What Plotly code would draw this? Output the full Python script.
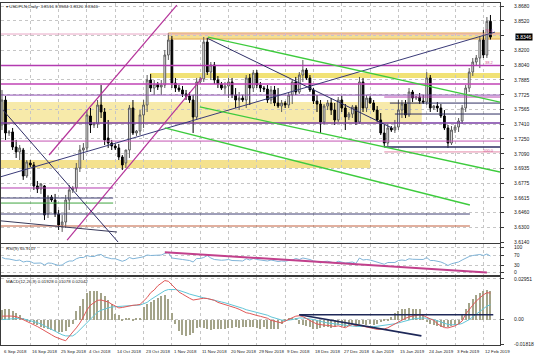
import plotly.graph_objects as go

W, H = 536, 358

# ---------------- data ----------------
date_labels = ["6 Sep 2018", "16 Sep 2018", "25 Sep 2018", "4 Oct 2018", "14 Oct 2018",
               "23 Oct 2018", "1 Nov 2018", "11 Nov 2018", "20 Nov 2018", "29 Nov 2018",
               "9 Dec 2018", "18 Dec 2018", "27 Dec 2018", "6 Jan 2019", "15 Jan 2019",
               "24 Jan 2019", "3 Feb 2019", "12 Feb 2019"]
label_bars = [0, 8, 16, 24, 32, 40, 48, 56, 64, 72, 80, 88, 96, 104, 112, 120, 128, 136]

opens = [3.7400, 3.7669, 3.7314, 3.7325, 3.7163, 3.7110, 3.7131, 3.6851, 3.6991, 3.6970,
         3.6744, 3.6711, 3.6744, 3.6442, 3.6625, 3.6593, 3.6442, 3.6324, 3.6356, 3.6593,
         3.6701, 3.6722, 3.6937, 3.7131, 3.7153, 3.7497, 3.7400, 3.7411, 3.7615, 3.7540,
         3.7260, 3.7206, 3.7174, 3.7153, 3.7056, 3.6991, 3.7131, 3.7583, 3.7314, 3.7335,
         3.7508, 3.7615, 3.7884, 3.7798, 3.7841, 3.7809, 3.7830, 3.8153, 3.8315, 3.7852,
         3.7798, 3.7777, 3.7734, 3.7712, 3.7669, 3.7486, 3.7863, 3.7895, 3.8293, 3.7970,
         3.8046, 3.7884, 3.7841, 3.7798, 3.7820, 3.7863, 3.7723, 3.7669, 3.7690, 3.7669,
         3.7906, 3.7798, 3.7960, 3.7830, 3.7798, 3.7787, 3.7669, 3.7777, 3.7637, 3.7604,
         3.7637, 3.7615, 3.7723, 3.7863, 3.7755, 3.7938, 3.7992, 3.7906, 3.7777, 3.7658,
         3.7626, 3.7432, 3.7604, 3.7637, 3.7561, 3.7454, 3.7669, 3.7583, 3.7486, 3.7518,
         3.7594, 3.7432, 3.7863, 3.7583, 3.7690, 3.7637, 3.7561, 3.7454, 3.7314, 3.7206,
         3.7368, 3.7346, 3.7378, 3.7561, 3.7626, 3.7508, 3.7755, 3.7690, 3.7701, 3.7658,
         3.7647, 3.7906, 3.7583, 3.7604, 3.7583, 3.7497, 3.7368, 3.7206, 3.7346, 3.7378,
         3.7443, 3.7583, 3.7798, 3.7970, 3.8078, 3.8121, 3.8315, 3.8153, 3.8516]
highs = [3.7777, 3.7712, 3.7346, 3.7368, 3.7239, 3.7185, 3.7153, 3.7023, 3.7023, 3.7002,
         3.6797, 3.6776, 3.6754, 3.6647, 3.6647, 3.6658, 3.6485, 3.6431, 3.6647, 3.6754,
         3.6744, 3.6991, 3.7185, 3.7206, 3.7561, 3.7583, 3.7432, 3.7669, 3.7830, 3.7583,
         3.7454, 3.7239, 3.7196, 3.7196, 3.7077, 3.7131, 3.7615, 3.7669, 3.7346, 3.7561,
         3.7669, 3.7938, 3.7949, 3.7884, 3.7863, 3.7884, 3.8207, 3.8390, 3.8358, 3.7906,
         3.7830, 3.7820, 3.7777, 3.7755, 3.7723, 3.7906, 3.7917, 3.8347, 3.8336, 3.8078,
         3.8078, 3.7927, 3.7863, 3.7863, 3.7906, 3.7906, 3.7798, 3.7755, 3.7723, 3.7938,
         3.7949, 3.7992, 3.7992, 3.7863, 3.7820, 3.7830, 3.7820, 3.7820, 3.7798, 3.7669,
         3.7658, 3.7755, 3.7884, 3.7917, 3.7970, 3.8100, 3.8013, 3.7938, 3.7798, 3.7723,
         3.7669, 3.7626, 3.7669, 3.7690, 3.7637, 3.7701, 3.7712, 3.7626, 3.7540, 3.7615,
         3.7615, 3.7917, 3.7906, 3.7723, 3.7712, 3.7669, 3.7604, 3.7529, 3.7400, 3.7411,
         3.7389, 3.7454, 3.7669, 3.7669, 3.7669, 3.7798, 3.7777, 3.7712, 3.7744, 3.7723,
         3.7970, 3.7938, 3.7615, 3.7647, 3.7626, 3.7561, 3.7400, 3.7389, 3.7400, 3.7475,
         3.7615, 3.7830, 3.8013, 3.8121, 3.8153, 3.8358, 3.8422, 3.8562, 3.8584]
lows = [3.7346, 3.7239, 3.7282, 3.7131, 3.7045, 3.7023, 3.6809, 3.6830, 3.6948, 3.6701,
        3.6668, 3.6658, 3.6378, 3.6399, 3.6572, 3.6410, 3.6270, 3.6249, 3.6292, 3.6485,
        3.6668, 3.6679, 3.6894, 3.7023, 3.7110, 3.7314, 3.7368, 3.7368, 3.7475, 3.7185,
        3.7153, 3.7131, 3.7131, 3.7023, 3.6916, 3.6937, 3.7045, 3.7292, 3.7282, 3.7292,
        3.7368, 3.7540, 3.7755, 3.7723, 3.7777, 3.7723, 3.7798, 3.8100, 3.7798, 3.7755,
        3.7755, 3.7701, 3.7669, 3.7637, 3.7314, 3.7454, 3.7841, 3.7863, 3.7938, 3.7884,
        3.7841, 3.7798, 3.7777, 3.7734, 3.7690, 3.7690, 3.7583, 3.7561, 3.7647, 3.7583,
        3.7615, 3.7755, 3.7798, 3.7755, 3.7755, 3.7637, 3.7626, 3.7604, 3.7583, 3.7540,
        3.7583, 3.7583, 3.7626, 3.7723, 3.7734, 3.7863, 3.7884, 3.7755, 3.7626, 3.7540,
        3.7314, 3.7400, 3.7561, 3.7508, 3.7400, 3.7432, 3.7540, 3.7346, 3.7454, 3.7475,
        3.7400, 3.7411, 3.7540, 3.7540, 3.7626, 3.7540, 3.7432, 3.7292, 3.7163, 3.7174,
        3.7325, 3.7314, 3.7346, 3.7475, 3.7475, 3.7486, 3.7647, 3.7669, 3.7626, 3.7626,
        3.7615, 3.7540, 3.7561, 3.7540, 3.7475, 3.7346, 3.7153, 3.7185, 3.7314, 3.7325,
        3.7411, 3.7540, 3.7755, 3.7927, 3.8035, 3.8013, 3.8121, 3.8121, 3.8320]
closes = [3.7669, 3.7314, 3.7325, 3.7163, 3.7110, 3.7153, 3.6851, 3.7002, 3.6970, 3.6744,
          3.6711, 3.6765, 3.6431, 3.6625, 3.6593, 3.6442, 3.6324, 3.6356, 3.6593, 3.6701,
          3.6722, 3.6937, 3.7131, 3.7153, 3.7508, 3.7400, 3.7411, 3.7615, 3.7540, 3.7239,
          3.7206, 3.7174, 3.7153, 3.7056, 3.6970, 3.7131, 3.7583, 3.7314, 3.7335, 3.7508,
          3.7615, 3.7884, 3.7798, 3.7841, 3.7809, 3.7830, 3.8153, 3.8315, 3.7852, 3.7798,
          3.7777, 3.7734, 3.7712, 3.7669, 3.7486, 3.7863, 3.7895, 3.8293, 3.7970, 3.8046,
          3.7884, 3.7841, 3.7798, 3.7820, 3.7863, 3.7723, 3.7669, 3.7690, 3.7669, 3.7906,
          3.7798, 3.7960, 3.7830, 3.7798, 3.7787, 3.7669, 3.7777, 3.7637, 3.7604, 3.7637,
          3.7615, 3.7723, 3.7863, 3.7755, 3.7938, 3.7992, 3.7906, 3.7777, 3.7658, 3.7626,
          3.7432, 3.7604, 3.7637, 3.7561, 3.7454, 3.7669, 3.7583, 3.7486, 3.7518, 3.7594,
          3.7432, 3.7863, 3.7583, 3.7690, 3.7637, 3.7561, 3.7454, 3.7314, 3.7206, 3.7368,
          3.7346, 3.7378, 3.7561, 3.7626, 3.7508, 3.7755, 3.7690, 3.7701, 3.7658, 3.7647,
          3.7906, 3.7583, 3.7604, 3.7583, 3.7497, 3.7368, 3.7206, 3.7346, 3.7378, 3.7443,
          3.7583, 3.7798, 3.7970, 3.8078, 3.8121, 3.8315, 3.8153, 3.8516, 3.8346]

rsi = [60, 55, 54, 50, 48, 50, 42, 45, 44, 37, 36, 38, 30, 38, 37, 32, 28, 30, 40, 46,
       46, 55, 60, 60, 68, 64, 64, 70, 72, 62, 58, 55, 55, 50, 45, 50, 60, 55, 56, 60,
       63, 70, 68, 68, 68, 70, 76, 80, 58, 55, 54, 52, 50, 48, 42, 56, 56, 60, 68, 58,
       52, 50, 49, 50, 52, 48, 46, 47, 46, 55, 50, 56, 52, 50, 50, 46, 50, 46, 44, 46,
       45, 48, 50, 56, 52, 58, 56, 52, 46, 44, 38, 44, 45, 40, 38, 45, 42, 38, 40, 42,
       36, 58, 50, 52, 50, 45, 42, 36, 33, 40, 40, 40, 48, 50, 48, 55, 53, 53, 51, 52,
       60, 48, 48, 46, 42, 36, 28, 35, 38, 42, 50, 58, 64, 68, 70, 72, 68, 74, 65.9107]

macd_main = [0.0025, 0.0028, 0.0026, 0.0025, 0.0022, 0.0012, 0.0000, -0.0012, -0.0022, -0.0035,
             -0.0050, -0.0065, -0.0082, -0.0095, -0.0110, -0.0125, -0.0138, -0.0145, -0.0153, -0.0125,
             -0.0090, -0.0060, -0.0025, 0.0020, 0.0070, 0.0105, 0.0120, 0.0140, 0.0142, 0.0135,
             0.0128, 0.0112, 0.0100, 0.0085, 0.0088, 0.0094, 0.0100, 0.0104, 0.0106, 0.0110,
             0.0135, 0.0160, 0.0195, 0.0215, 0.0245, 0.0265, 0.0283, 0.0278, 0.0250, 0.0225,
             0.0200, 0.0185, 0.0168, 0.0155, 0.0142, 0.0148, 0.0153, 0.0155, 0.0153, 0.0146,
             0.0140, 0.0125, 0.0118, 0.0108, 0.0100, 0.0094, 0.0085, 0.0075, 0.0062, 0.0050,
             0.0045, 0.0040, 0.0030, 0.0024, 0.0018, 0.0010, -0.0005, -0.0012, -0.0022, -0.0024,
             -0.0010, 0.0000, 0.0015, 0.0025, 0.0028, 0.0022, 0.0008, -0.0008, -0.0020, -0.0032,
             -0.0038, -0.0040, -0.0042, -0.0047, -0.0050, -0.0045, -0.0052, -0.0059, -0.0045, -0.0035,
             -0.0045, -0.0040, -0.0048, -0.0052, -0.0058, -0.0065, -0.0071, -0.0072, -0.0068, -0.0059,
             -0.0045, -0.0030, -0.0012, 0.0000, 0.0010, 0.0020, 0.0024, 0.0030, 0.0035, 0.0030,
             0.0015, 0.0005, -0.0005, -0.0030, -0.0045, -0.0058, -0.0060, -0.0052, -0.0045, -0.0030,
             -0.0010, 0.0040, 0.0075, 0.0105, 0.0135, 0.0160, 0.0180, 0.0195, 0.01928]
macd_signal = [0.0000, 0.0003, 0.0006, 0.0009, 0.0012, 0.0010, 0.0006, 0.0000, -0.0006, -0.0014,
               -0.0022, -0.0032, -0.0045, -0.0062, -0.0075, -0.0088, -0.0100, -0.0110, -0.0118, -0.0120,
               -0.0118, -0.0100, -0.0075, -0.0050, -0.0024, 0.0005, 0.0030, 0.0055, 0.0068, 0.0078,
               0.0085, 0.0092, 0.0094, 0.0094, 0.0094, 0.0095, 0.0098, 0.0100, 0.0103, 0.0106,
               0.0115, 0.0125, 0.0145, 0.0160, 0.0180, 0.0195, 0.0210, 0.0218, 0.0220, 0.0218,
               0.0212, 0.0205, 0.0195, 0.0185, 0.0177, 0.0170, 0.0165, 0.0158, 0.0153, 0.0148,
               0.0142, 0.0135, 0.0128, 0.0122, 0.0115, 0.0106, 0.0098, 0.0090, 0.0082, 0.0072,
               0.0066, 0.0060, 0.0052, 0.0046, 0.0040, 0.0032, 0.0020, 0.0012, 0.0003, -0.0003,
               -0.0007, -0.0005, 0.0000, 0.0006, 0.0012, 0.0012, 0.0010, 0.0005, 0.0000, -0.0008,
               -0.0014, -0.0019, -0.0024, -0.0028, -0.0032, -0.0035, -0.0038, -0.0042, -0.0044, -0.0047,
               -0.0049, -0.0050, -0.0051, -0.0052, -0.0052, -0.0051, -0.0048, -0.0045, -0.0041, -0.0037,
               -0.0035, -0.0030, -0.0024, -0.0016, -0.0010, -0.0002, 0.0004, 0.0008, 0.0012, 0.0012,
               0.0010, 0.0006, 0.0000, -0.0008, -0.0016, -0.0028, -0.0035, -0.0038, -0.0038, -0.0035,
               -0.0028, -0.0015, 0.0000, 0.0020, 0.0040, 0.0062, 0.0082, 0.0098, 0.01078]
macd_hist = [0.0070, 0.0080, 0.0075, 0.0065, 0.0050, 0.0030, 0.0010, -0.0005, -0.0015, -0.0030,
             -0.0040, -0.0050, -0.0060, -0.0065, -0.0072, -0.0080, -0.0088, -0.0092, -0.0085, -0.0050,
             -0.0030, 0.0060, 0.0100, 0.0150, 0.0190, 0.0210, 0.0210, 0.0205, 0.0195, 0.0170,
             0.0140, 0.0110, 0.0040, 0.0030, -0.0010, 0.0010, 0.0012, -0.0008, 0.0010, 0.0015,
             0.0095, 0.0110, 0.0130, 0.0145, 0.0160, 0.0170, 0.0178, 0.0150, 0.0045, -0.0030,
             -0.0080, -0.0110, -0.0120, -0.0115, -0.0095, -0.0060, -0.0055, -0.0060, -0.0070, -0.0075,
             -0.0070, -0.0068, -0.0070, -0.0065, -0.0060, -0.0062, -0.0055, -0.0060, -0.0055, -0.0050,
             -0.0055, -0.0050, -0.0060, -0.0065, -0.0055, -0.0065, -0.0070, -0.0068, -0.0065, -0.0030,
             -0.0010, 0.0005, 0.0010, 0.0008, -0.0030, -0.0040, -0.0045, -0.0055, -0.0065, -0.0070,
             -0.0060, -0.0055, -0.0050, -0.0060, -0.0055, -0.0040, -0.0045, -0.0050, -0.0040, -0.0035,
             -0.0045, -0.0030, -0.0035, -0.0040, -0.0035, -0.0040, -0.0030, -0.0015, -0.0010, -0.0005,
             0.0020, 0.0045, 0.0060, 0.0075, 0.0080, 0.0085, 0.0080, 0.0080, 0.0075, 0.0040,
             -0.0020, -0.0035, -0.0040, -0.0045, -0.0050, -0.0055, -0.0050, -0.0045, -0.0040, -0.0030,
             0.0030, 0.0080, 0.0120, 0.0150, 0.0175, 0.0195, 0.0205, 0.0215, 0.02042]

price_ticks = [3.6140, 3.6300, 3.6460, 3.6615, 3.6775, 3.6935, 3.7090, 3.7250, 3.7410,
               3.7565, 3.7725, 3.7885, 3.8040, 3.8200, 3.8360, 3.8520, 3.8680]
price_tick_text = ["3.6140", "3.6300", "3.6460", "3.6615", "3.6775", "3.6935", "3.7090", "3.7250",
                   "3.7410", "3.7565", "3.7725", "3.7885", "3.8040", "3.8200", "", "3.8520", "3.8680"]
rsi_ticks = [0, 30, 70, 100]
macd_ticks = [-0.01818, 0.0, 0.02951]
macd_tick_text = ["-0.01818", "0.00", "0.02951"]

# drawn objects (levels / anchors in bar index & price)
band_lo = [3.8325, 3.7906, 3.7410, 3.6937]
band_hi = [3.8390, 3.7959, 3.7647, 3.7023]
band_from = [47, 41.8, -1, -1]
band_to = [141, 141, 118.6, 104]

h_levels = [3.8379, 3.8040, 3.7841, 3.7722, 3.7421, 3.7227, 3.6442, 3.6313,
            3.6722, 3.6614, 3.6560, 3.7701, 3.7636, 3.7518, 3.7163, 3.7110]
h_from = [-1, -1, -1, -1, -1, -1, -1, -1, -1, -1, -1, 108, 109.6, 111, 108, 108]
h_to = [141, 141, 141, 141, 141, 141, 132.2, 132.2, 31.4, 31.4, 31.4, 141, 141, 141, 141, 141]

trend_x0 = [13.3, 18.4, 0.3, -0.5, -0.6, 57.9, 58.2, 55.9, 46.0]
trend_y0 = [3.7077, 3.6162, 3.7560, 3.6369, 3.6840, 3.8336, 3.8347, 3.7594, 3.7368]
trend_x1 = [49.4, 56.5, 32.8, 32.5, 139.3, 110.2, 140.7, 140.7, 132.2]
trend_y1 = [3.8690, 3.7905, 3.6140, 3.6248, 3.8400, 3.7367, 3.7647, 3.6894, 3.6539]

fib_text = ["76.4", "38.2", "100.0"]
fib_price = [3.8412, 3.8075, 3.7125]

rsi_tl = [46, 81, 137, 0]
macd_tl_x0 = [84, 84]
macd_tl_y0 = [0.0035, 0.0035]
macd_tl_x1 = [138.8, 118.5]
macd_tl_y1 = [0.0035, -0.0118]

# ---------------- styles ----------------
band_fill = ['#F4DE92', '#F1E276', '#F7EAAA', '#F4E18E']
band_line = ['#E2A84A', 'rgba(0,0,0,0)', 'rgba(0,0,0,0)', 'rgba(0,0,0,0)']
h_colors = ['#E9A6C6', '#B33AB0', '#C043B4', '#9050B4', '#7A3FA6', '#C453B4', '#3E3E72', '#C2603E',
            '#B33AB0', '#3E3E72', '#3FA43F', '#B84AB2', '#2E2E62', '#2E2E62', '#2E2E62', '#E488A8']
h_widths = [1, 1.5, 1.5, 1, 1.5, 1, 1, 1, 1, 1, 1, 1, 1, 1, 1.3, 1]
trend_colors = ['#B5349A', '#B5349A', '#2E2E66', '#3A3A5A', '#3A3A78', '#2E2E66',
                '#3DCB3D', '#3DCB3D', '#3DCB3D']
trend_widths = [1.2, 1.2, 1, 1, 1, 1, 1.3, 1.3, 1.3]

FONT = "Liberation Sans, Arial, sans-serif"
SMALL = 4.4
GRID = '#C6C6C6'
AX = '#3A3A3A'

bars = list(range(len(closes)))

fig = go.Figure()
fig.add_trace(go.Candlestick(
    x=bars, open=opens, high=highs, low=lows, close=closes, xaxis='x', yaxis='y',
    increasing=dict(line=dict(color='#5A5A5A', width=1), fillcolor='white'),
    decreasing=dict(line=dict(color='#000000', width=1), fillcolor='#000000'),
    whiskerwidth=0, hoverinfo='skip'))
fig.add_trace(go.Scatter(x=bars, y=rsi, xaxis='x2', yaxis='y2', mode='lines',
                         line=dict(color='#7FB4D8', width=1), hoverinfo='skip'))
fig.add_trace(go.Bar(x=bars, y=macd_hist, xaxis='x3', yaxis='y3', width=0.32,
                     marker=dict(color='#A4A48A', line=dict(width=0)), hoverinfo='skip'))
fig.add_trace(go.Scatter(x=bars, y=macd_signal, xaxis='x3', yaxis='y3', mode='lines',
                         line=dict(color='#62C6D8', width=1), hoverinfo='skip'))
fig.add_trace(go.Scatter(x=bars, y=macd_main, xaxis='x3', yaxis='y3', mode='lines',
                         line=dict(color='#E05858', width=1), hoverinfo='skip'))

shapes = []
for lo, hi, a, b, fc, lc in zip(band_lo, band_hi, band_from, band_to, band_fill, band_line):
    shapes.append(dict(type='rect', xref='x', yref='y', x0=a, x1=b, y0=lo, y1=hi,
                       fillcolor=fc, line=dict(color=lc, width=1), layer='below'))
for lv, a, b, c, w in zip(h_levels, h_from, h_to, h_colors, h_widths):
    shapes.append(dict(type='line', xref='x', yref='y', x0=a, x1=b, y0=lv, y1=lv,
                       line=dict(color=c, width=w), layer='above'))
for x0, y0, x1, y1, c, w in zip(trend_x0, trend_y0, trend_x1, trend_y1, trend_colors, trend_widths):
    shapes.append(dict(type='line', xref='x', yref='y', x0=x0, y0=y0, x1=x1, y1=y1,
                       line=dict(color=c, width=w), layer='above'))
shapes.append(dict(type='line', xref='x2', yref='y2', x0=rsi_tl[0], y0=rsi_tl[1],
                   x1=rsi_tl[2], y1=rsi_tl[3], line=dict(color='#C2408C', width=2)))
for x0, y0, x1, y1 in zip(macd_tl_x0, macd_tl_y0, macd_tl_x1, macd_tl_y1):
    shapes.append(dict(type='line', xref='x3', yref='y3', x0=x0, y0=y0, x1=x1, y1=y1,
                       line=dict(color='#1E2858', width=1.6)))

annotations = []
for b, t in zip(label_bars, date_labels):
    annotations.append(dict(x=b, xref='x3', y=1 - 351 / H, yref='paper', text=t,
                            showarrow=False, xanchor='left', yanchor='middle',
                            font=dict(family=FONT, size=SMALL, color='#202020')))
annotations.append(dict(x=4 / W, xref='paper', y=1 - 6 / H, yref='paper',
                        text="\u25BE USDPLN,Daily  %.4f %.4f %.4f %.4f" % (opens[-1], highs[-1], lows[-1], closes[-1]),
                        showarrow=False, xanchor='left', yanchor='middle',
                        font=dict(family=FONT, size=SMALL, color='#202020')))
annotations.append(dict(x=4 / W, xref='paper', y=1 - 248 / H, yref='paper',
                        text="RSI(9) %.4f" % rsi[-1], showarrow=False, xanchor='left', yanchor='middle',
                        font=dict(family=FONT, size=SMALL, color='#202020')))
annotations.append(dict(x=4 / W, xref='paper', y=1 - 281 / H, yref='paper',
                        text="MACD(12,26,9) %.5f %.5f %.5f" % (macd_main[-1], macd_signal[-1], macd_hist[-1]),
                        showarrow=False, xanchor='left', yanchor='middle',
                        font=dict(family=FONT, size=SMALL, color='#202020')))
annotations.append(dict(x=515 / W, xref='paper', y=closes[-1], yref='y',
                        text="%.4f" % closes[-1], showarrow=False, xanchor='left', yanchor='middle',
                        bgcolor='#000000', borderpad=0,
                        font=dict(family=FONT, size=5, color='#FFFFFF')))
for t, p in zip(fib_text, fib_price):
    annotations.append(dict(x=139.5, xref='x', y=p, yref='y', text=t, showarrow=False,
                            xanchor='right', yanchor='middle',
                            font=dict(family=FONT, size=4, color='#D0508C')))

x_dom = [1 / W, 500 / W]


def xax(anchor, match=None):
    d = dict(domain=x_dom, range=[-0.28, 140.7], anchor=anchor, tickvals=label_bars,
             showticklabels=False, ticks='', showgrid=True, gridcolor=GRID, griddash='dot',
             gridwidth=1, zeroline=False, showline=True, linecolor=AX, linewidth=1, mirror=True,
             fixedrange=True, automargin=False)
    if match:
        d['matches'] = match
    return d


def yax(top_px, bot_px, rng, vals, texts, anchor):
    return dict(domain=[1 - bot_px / H, 1 - top_px / H], range=rng, anchor=anchor, side='right',
                tickvals=vals, ticktext=texts, ticks='outside', ticklen=3, tickcolor=AX,
                ticklabelstandoff=9,
                tickfont=dict(family=FONT, size=5, color='#202020'),
                showgrid=True, gridcolor=GRID, griddash='dot', gridwidth=1, zeroline=False,
                showline=True, linecolor=AX, linewidth=1, mirror=True, fixedrange=True,
                automargin=False)


xa = xax('y')
xa['rangeslider'] = dict(visible=False)

fig.update_layout(
    width=W, height=H, margin=dict(l=0, r=0, t=0, b=0),
    paper_bgcolor='white', plot_bgcolor='white', showlegend=False,
    xaxis=xa, xaxis2=xax('y2', 'x'), xaxis3=xax('y3', 'x'),
    yaxis=yax(3, 243, [3.6130, 3.8713], price_ticks, price_tick_text, 'x'),
    yaxis2=yax(244, 275, [-10.0, 114.0], rsi_ticks, [str(v) for v in rsi_ticks], 'x2'),
    yaxis3=yax(277, 345, [-0.0184, 0.0309], macd_ticks, macd_tick_text, 'x3'),
    shapes=shapes, annotations=annotations, bargap=0,
)

fig.write_html("out.html")
